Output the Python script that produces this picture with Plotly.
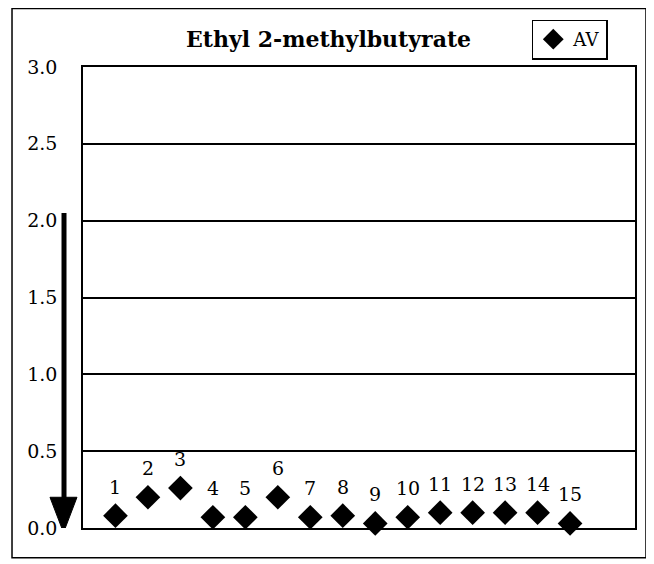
import plotly.graph_objects as go

samples = list(range(1, 16))
sample_labels = [str(s) for s in samples]
av_values = [0.08, 0.20, 0.26, 0.07, 0.07, 0.20, 0.07, 0.08, 0.03, 0.07, 0.10, 0.10, 0.10, 0.10, 0.03]
y_ticks = [0.0, 0.5, 1.0, 1.5, 2.0, 2.5, 3.0]
title_text = "Ethyl 2-methylbutyrate"
series_name = "AV"

FONT = "DejaVu Serif"

# page body has an 8px default margin, so the figure is offset by 8px
fig = go.Figure()
fig.add_trace(go.Scatter(
    x=samples, y=av_values, mode="markers", name=series_name,
    marker=dict(symbol="diamond", size=19, color="black"),
    cliponaxis=False, showlegend=True,
))

annotations = []
for s, lab, v in zip(samples, sample_labels, av_values):
    annotations.append(dict(x=s, y=v, xref="x", yref="y", text=lab, showarrow=False,
                            yshift=29, font=dict(family=FONT, size=19, color="black")))

annotations.append(dict(text="<b>" + title_text + "</b>", xref="paper", yref="paper",
                        x=0.444, y=(528 - 36) / 464, xanchor="center", yanchor="middle",
                        showarrow=False, font=dict(family=FONT, size=22, color="black")))

shapes = [
    # outer frame
    dict(type="rect", xref="paper", yref="paper", x0=-0.1286, x1=1.0199, y0=-0.0647, y1=1.127,
         line=dict(color="black", width=1.5), layer="below"),
    # arrow shaft
    dict(type="line", xref="paper", yref="y", x0=-0.0344, x1=-0.0344, y0=2.05, y1=0.15,
         line=dict(color="black", width=5)),
    # arrow head
    dict(type="path", xref="paper", yref="y",
         path="M -0.0598,0.20 L -0.0109,0.20 L -0.0353,-0.03 Z",
         fillcolor="black", line=dict(color="black", width=1)),
]

fig.update_layout(
    width=646, height=556,
    margin=dict(l=75, r=19, t=56, b=36),
    paper_bgcolor="white", plot_bgcolor="white",
    font=dict(family=FONT, size=19, color="black"),
    showlegend=True,
    legend=dict(x=0.813, y=1.103, xanchor="left", yanchor="top",
                bordercolor="black", borderwidth=1.5, bgcolor="white",
                font=dict(family=FONT, size=18, color="black"),
                itemwidth=30, tracegroupgap=0, valign="middle"),
    annotations=annotations,
    shapes=shapes,
)
fig.update_xaxes(range=[0, 17], showgrid=False, zeroline=False, showticklabels=False,
                 ticks="", showline=True, mirror=True, linecolor="black", linewidth=1.5)
fig.update_yaxes(range=[0, 3], tickvals=y_ticks, tickformat=".1f", showgrid=True,
                 gridcolor="black", gridwidth=1.5, zeroline=False, ticks="",
                 ticklabelstandoff=20,
                 showline=True, mirror=True, linecolor="black", linewidth=1.5)

fig.write_html("out.html")
